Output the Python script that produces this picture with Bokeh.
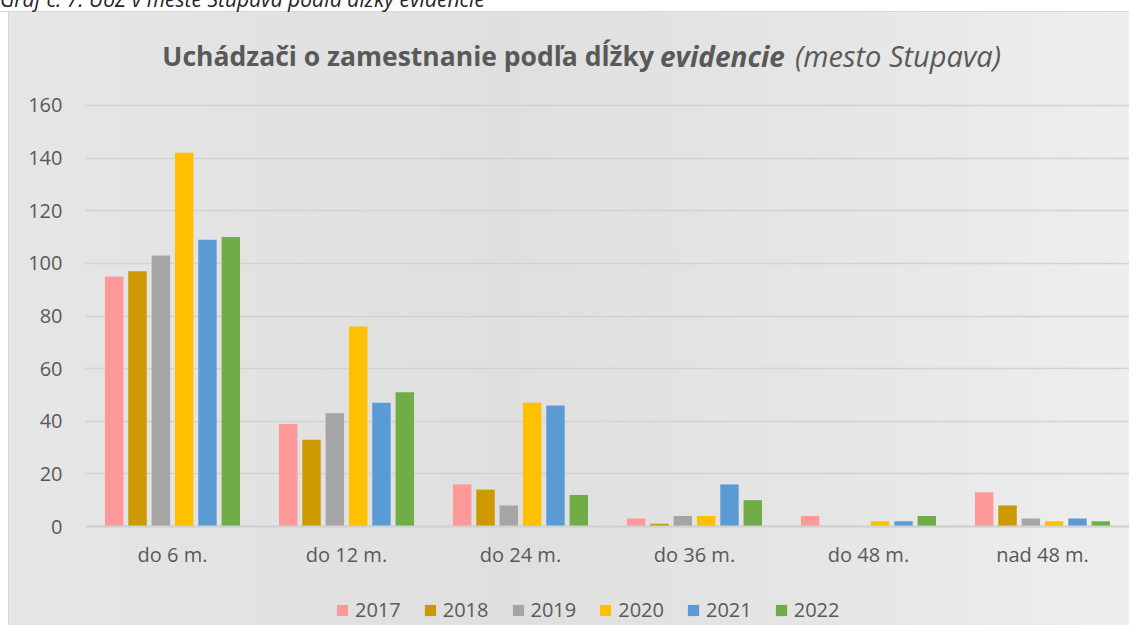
from bokeh.plotting import figure
from bokeh.models import FactorRange, Range1d, Legend, LegendItem, Span, Div
from bokeh.layouts import column
from bokeh.transform import dodge
from bokeh.embed import file_html
from bokeh.resources import INLINE

categories = ["do 6 m.", "do 12 m.", "do 24 m.", "do 36 m.", "do 48 m.", "nad 48 m."]
years = ["2017", "2018", "2019", "2020", "2021", "2022"]
v2017 = [95, 39, 16, 3, 4, 13]
v2018 = [97, 33, 14, 1, 0, 8]
v2019 = [103, 43, 8, 4, 0, 3]
v2020 = [142, 76, 47, 4, 2, 2]
v2021 = [109, 47, 46, 16, 2, 3]
v2022 = [110, 51, 12, 10, 4, 2]
series = [v2017, v2018, v2019, v2020, v2021, v2022]
colors = ["#FF9999", "#CC9900", "#A5A5A5", "#FFC000", "#5B9BD5", "#70AD47"]
y_ticks = [0, 20, 40, 60, 80, 100, 120, 140, 160]

caption = "Graf č. 7: UoZ v meste Stupava podľa dĺžky evidencie"
title_parts = ["Uchádzači o zamestnanie podľa dĺžky", "evidencie", "(mesto Stupava)"]

FONT = "Open Sans"
TXT = "#595959"
W, TOP_H, MAIN_H = 1129, 85, 489
LEG_H = 625 - TOP_H - MAIN_H
FRAME_L = 85

# ---- header (caption + title); chart-area gray comes from the column background ----
header_html = f"""
<div style="position:relative;width:{W}px;height:{TOP_H}px;overflow:hidden;font-family:'{FONT}';">
  <div style="position:absolute;left:0px;top:0px;width:{W}px;height:12px;background:#ffffff;
              border-bottom:1px solid #d9d9d9;"></div>
  <div style="position:absolute;left:0px;top:-15px;font-size:21px;line-height:28px;font-style:italic;
              color:#262626;white-space:nowrap;">{caption}</div>
  <div style="position:absolute;right:{W - 654}px;top:43px;font-size:26.5px;line-height:26.5px;
              font-weight:bold;color:{TXT};white-space:nowrap;">{title_parts[0]}</div>
  <div style="position:absolute;left:660px;top:42px;font-size:28px;line-height:28px;
              font-weight:bold;font-style:italic;color:{TXT};white-space:nowrap;">{title_parts[1]}</div>
  <div style="position:absolute;left:795px;top:41px;font-size:29px;line-height:29px;
              font-style:italic;color:{TXT};white-space:nowrap;">{title_parts[2]}</div>
</div>
"""
header = Div(text=header_html, width=W, height=TOP_H, margin=0)

# ---- main chart (transparent: the gradient of the chart area shows through) ----
p = figure(x_range=FactorRange(*categories), y_range=Range1d(-1.14, 160.76),
           width=W, height=MAIN_H, output_backend="svg", toolbar_location=None,
           min_border_left=FRAME_L, min_border_right=0, min_border_top=18, min_border_bottom=45)
p.background_fill_alpha = 0
p.border_fill_alpha = 0
p.outline_line_color = None

pitch = 0.134
bw = 0.106
for i, (yr, vals, c) in enumerate(zip(years, series, colors)):
    src = dict(cat=categories, val=vals)
    p.vbar(x=dodge("cat", (i - 2.5) * pitch, range=p.x_range), top="val", bottom=0,
           width=bw, source=src, fill_color=c, line_color=None)

p.add_layout(Span(location=0, dimension="width", line_color="#d0d0d0", line_width=2))

p.xgrid.grid_line_color = None
p.ygrid.grid_line_color = "#d2d2d2"
p.ygrid.grid_line_width = 1.5

p.yaxis.ticker = y_ticks
for ax in (p.xaxis, p.yaxis):
    ax.axis_line_color = None
    ax.major_tick_line_color = None
    ax.minor_tick_line_color = None
    ax.major_tick_out = 0
    ax.major_tick_in = 0
    ax.major_label_text_font = FONT
    ax.major_label_text_font_size = "20px"
    ax.major_label_text_color = TXT
p.xaxis.major_label_standoff = 11
p.yaxis.major_label_standoff = 23

# ---- legend strip (frame aligned with the chart frame) ----
lf = figure(width=W, height=LEG_H, x_range=Range1d(FRAME_L, W), y_range=Range1d(0, LEG_H),
            output_backend="svg", toolbar_location=None,
            x_axis_location=None, y_axis_location=None,
            min_border_left=FRAME_L, min_border_right=0, min_border_top=0, min_border_bottom=0)
lf.grid.grid_line_color = None
lf.outline_line_color = None
lf.background_fill_alpha = 0
lf.border_fill_alpha = 0
items = []
for yr, c in zip(years, colors):
    # hidden swatch renderer (outside the visible range) used only for the legend key
    r = lf.vbar(x=[-1000], top=[0], width=1, fill_color=c, line_color=None)
    items.append(LegendItem(label=yr, renderers=[r]))
legend = Legend(items=items, orientation="horizontal", location=(335 - FRAME_L, 2),
                spacing=22, label_standoff=6, glyph_width=14, glyph_height=14,
                padding=0, margin=0, label_text_font=FONT, label_text_font_size="20px",
                label_text_color=TXT, background_fill_alpha=0, border_line_alpha=0)
lf.add_layout(legend, "center")

chart_bg = ("linear-gradient(to right, #ffffff 8px, #d9d9d9 8px, #d9d9d9 9px, transparent 9px), "
            "linear-gradient(to right, #e6e6e6 0%, #dfdfdf 45%, #e6e6e6 75%, #eeeeee 100%)")
layout = column(header, p, lf, spacing=0, styles={"background": chart_bg})

open("out.html", "w").write(file_html(layout, INLINE))
